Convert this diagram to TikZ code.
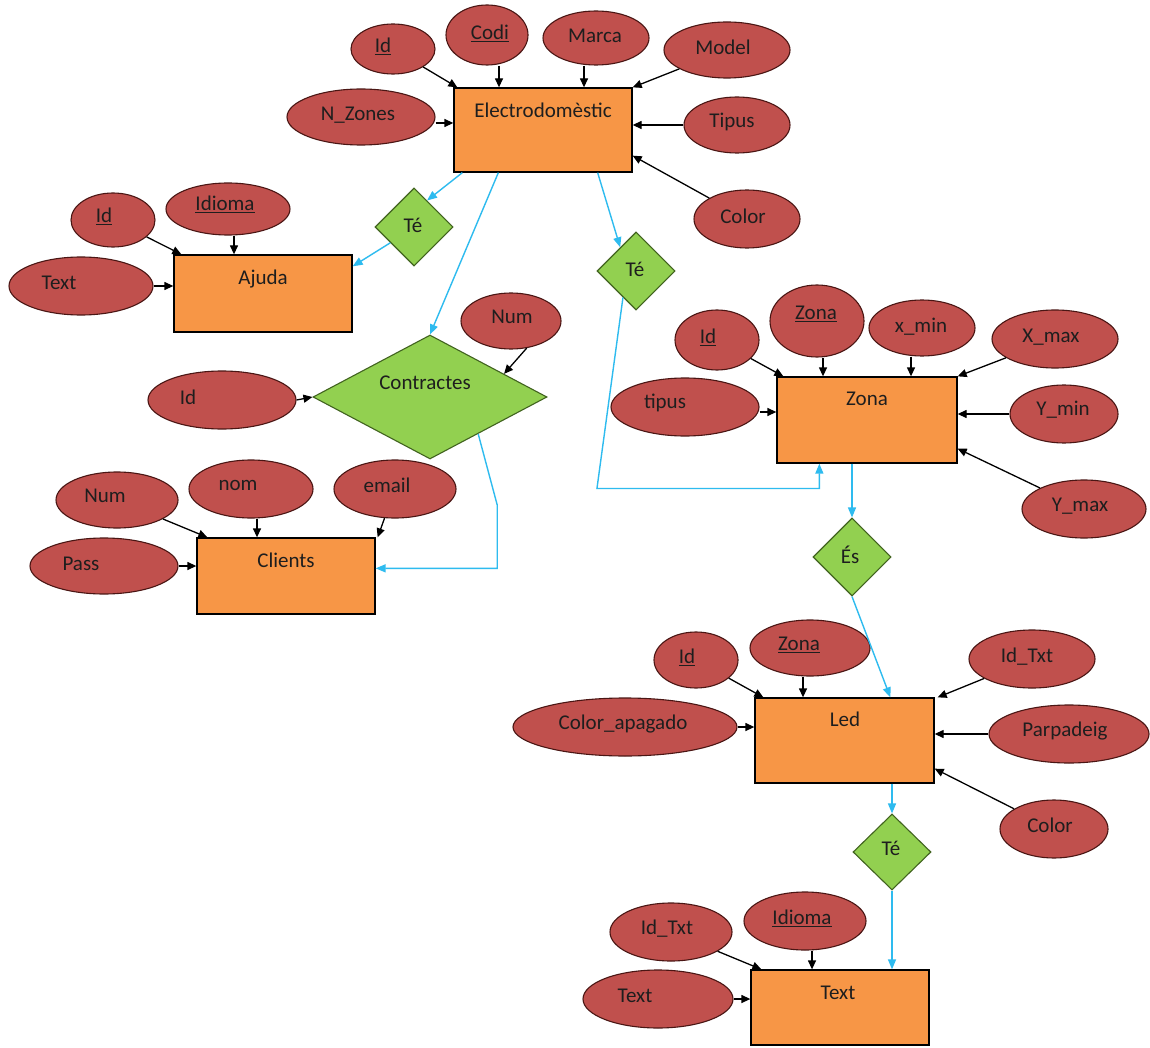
\documentclass[tikz,border=0pt]{standalone}
\usepackage{fontspec}
\setmainfont{Carlito}
\usetikzlibrary{shapes.geometric,arrows.meta,calc}
\definecolor{attrfill}{HTML}{C0504D}
\definecolor{attrdraw}{HTML}{4A1614}
\definecolor{entfill}{HTML}{F79646}
\definecolor{relfill}{HTML}{92D050}
\definecolor{reldraw}{HTML}{41631F}
\definecolor{linkblue}{HTML}{2EBBEF}
\definecolor{txt}{HTML}{1E1E1E}
\tikzset{
 attr/.style={ellipse, draw=attrdraw, fill=attrfill, line width=1.1pt, inner sep=0pt},
 entity/.style={rectangle, draw=black, fill=entfill, line width=1.3pt, inner sep=0pt},
 rel/.style={diamond, draw=reldraw, fill=relfill, line width=1.1pt, inner sep=0pt},
 lbl/.style={text=txt, font=\fontsize{21}{24}\selectfont, inner sep=0pt},
 blk/.style={draw=black, line width=1.3pt, -{Triangle[length=9pt,width=8pt]}},
 blu/.style={draw=linkblue, line width=1.4pt, -{Triangle[length=10pt,width=8pt]}},
}
\newcommand\attrnode[6]{%
 \node[attr, minimum width=#3, minimum height=#4] (#1) at (#2) {};
 \node[lbl] (#1-t) at (#5) {#6};}
\begin{document}
\begin{tikzpicture}[x=1pt,y=-1pt]
\fill[white] (0,0) rectangle (1150,1048);
\useasboundingbox (0,0) rectangle (1150,1048);

% ---------- entities ----------
\node[entity, minimum width=178, minimum height=84] (E) at (543,130) {};
\node[lbl] (E-t) at (543,110) {Electrodomèstic};
\node[entity, minimum width=178, minimum height=77] (A) at (263,293.5) {};
\node[lbl] (A-t) at (263,279) {Ajuda};
\node[entity, minimum width=178, minimum height=76] (Cl) at (286,576) {};
\node[lbl] (Cl-t) at (286,560) {Clients};
\node[entity, minimum width=180, minimum height=86] (Z) at (867,420) {};
\node[lbl] (Z-t) at (867,399) {Zona};
\node[entity, minimum width=179, minimum height=85] (Led) at (844.5,740.5) {};
\node[lbl] (Led-t) at (845,719) {Led};
\node[entity, minimum width=178, minimum height=75] (Tx) at (840,1007.5) {};
\node[lbl] (Tx-t) at (838,993) {Text};

% ---------- relationships ----------
\node[rel, minimum width=78, minimum height=78] (T1) at (414,227) {};
\node[lbl] (T1-t) at (413,225) {Té};
\node[rel, minimum width=234, minimum height=124] (C) at (430,397) {};
\node[lbl] (C-t) at (425,383) {Contractes};
\node[rel, minimum width=78, minimum height=78] (T2) at (636,271) {};
\node[lbl] (T2-t) at (635,269) {Té};
\node[rel, minimum width=78, minimum height=78] (Es) at (852,557) {};
\node[lbl] (Es-t) at (850,555) {És};
\node[rel, minimum width=78, minimum height=76] (T3) at (892,852) {};
\node[lbl] (T3-t) at (891,848) {Té};

% ---------- attributes ----------
\attrnode{eId}{393,49}{84}{50}{383,46}{\underline{Id}}
\attrnode{eCodi}{487,35}{82}{60}{490,33}{\underline{Codi}}
\attrnode{eMarca}{596,38}{106}{54}{595,36}{Marca}
\attrnode{eModel}{727,50}{126}{56}{723,47}{Model}
\attrnode{eNZ}{361,117}{148}{56}{358,115}{N\_Zones}
\attrnode{eTipus}{737,125}{106}{56}{732,122}{Tipus}
\attrnode{eColor}{747,219}{106}{58}{743,216}{Color}

\attrnode{aId}{113,220}{84}{54}{104,216}{\underline{Id}}
\attrnode{aIdioma}{228,209}{124}{52}{225,204}{\underline{Idioma}}
\attrnode{aText}{81,286}{144}{58}{59,283}{Text}

\attrnode{cNum}{511,321}{100}{56}{512,317}{Num}
\attrnode{cId}{222,400}{148}{58}{188,397}{Id}

\attrnode{clNum}{117,500}{122}{56}{105,496}{Num}
\attrnode{clNom}{251,489}{124}{58}{238,485}{nom}
\attrnode{clEmail}{395,489}{122}{58}{387,485}{email}
\attrnode{clPass}{104,566}{148}{56}{81,564}{Pass}

\attrnode{zId}{717,340}{84}{60}{708,337}{\underline{Id}}
\attrnode{zZona}{817,321}{94}{72}{816,314}{\underline{Zona}}
\attrnode{zXmin}{922,328}{106}{56}{921,327}{x\_min}
\attrnode{zXmax}{1055,339}{126}{58}{1051,337}{X\_max}
\attrnode{zTipus}{685,407}{148}{58}{665,403}{tipus}
\attrnode{zYmin}{1064,414}{108}{58}{1063,410}{Y\_min}
\attrnode{zYmax}{1084,509}{124}{58}{1080,506}{Y\_max}

\attrnode{lId}{696,660}{84}{56}{687,657}{\underline{Id}}
\attrnode{lZona}{810,648}{120}{56}{799,645}{\underline{Zona}}
\attrnode{lIdTxt}{1032,659}{126}{58}{1027,657}{Id\_Txt}
\attrnode{lColAp}{625,727}{224}{58}{623,724}{Color\_apagado}
\attrnode{lParp}{1069,734}{160}{58}{1065,731}{Parpadeig}
\attrnode{lColor}{1054,829}{108}{58}{1050,825}{Color}

\attrnode{tIdTxt}{671,932}{122}{58}{667,929}{Id\_Txt}
\attrnode{tIdioma}{805,921}{122}{58}{802,918}{\underline{Idioma}}
\attrnode{tText}{658,999}{150}{58}{635,996}{Text}

% ---------- attribute arrows ----------
\draw[blk] (eId) -- ([xshift=4pt]E.north west);
\draw[blk] ([xshift=12pt]eCodi.south) -- ([xshift=12pt]eCodi.south |- E.north);
\draw[blk] ([xshift=-12pt]eMarca.south) -- ([xshift=-12pt]eMarca.south |- E.north);
\draw[blk] (eModel) -- (E.north east);
\draw[blk] ([yshift=-6pt]eNZ.east) -- ([yshift=-6pt]eNZ.east -| E.west);
\draw[blk] (eTipus.west) -- (eTipus.west -| E.east);
\draw[blk] (eColor) -- ([yshift=17pt]E.south east);

\draw[blk] (aId) -- ([xshift=8pt]A.north west);
\draw[blk] ([xshift=6pt]aIdioma.south) -- ([xshift=6pt]aIdioma.south |- A.north);
\draw[blk] (aText.east) -- (aText.east -| A.west);

\draw[blk] (cId.east) -- (C.west);
\draw[blk] (cNum.-60) -- ($(C.north)!0.63!(C.east)$);

\draw[blk] (clNum) -- ([xshift=11pt]Cl.north west);
\draw[blk] ([xshift=6pt]clNom.south) -- ([xshift=6pt]clNom.south |- Cl.north);
\draw[blk] (clEmail) -- ([xshift=2pt]Cl.north east);
\draw[blk] (clPass.east) -- (clPass.east -| Cl.west);

\draw[blk] (zId) -- ([xshift=7pt]Z.north west);
\draw[blk] ([xshift=6pt]zZona.south) -- ([xshift=6pt]zZona.south |- Z.north);
\draw[blk] ([xshift=-11pt]zXmin.south) -- ([xshift=-11pt]zXmin.south |- Z.north);
\draw[blk] (zXmax) -- (Z.north east);
\draw[blk] ([yshift=-5pt]zTipus.east) -- ([yshift=-5pt]zTipus.east -| Z.west);
\draw[blk] (zYmin.west) -- (zYmin.west -| Z.east);
\draw[blk] (zYmax) -- ([yshift=15pt]Z.south east);

\draw[blk] (lId) -- ([xshift=9pt]Led.north west);
\draw[blk] ([xshift=-7pt]lZona.south) -- ([xshift=-7pt]lZona.south |- Led.north);
\draw[blk] (lIdTxt) -- ([xshift=3pt]Led.north east);
\draw[blk] (lColAp.east) -- (lColAp.east -| Led.west);
\draw[blk] (lParp.west) -- (lParp.west -| Led.east);
\draw[blk] (lColor) -- ([yshift=15pt]Led.south east);

\draw[blk] (tIdTxt) -- ([xshift=11pt]Tx.north west);
\draw[blk] ([xshift=7pt]tIdioma.south) -- ([xshift=7pt]tIdioma.south |- Tx.north);
\draw[blk] (tText.east) -- (tText.east -| Tx.west);

% ---------- relationship links ----------
\draw[blu] ([xshift=9pt]E.south west) -- ($(T1.north)!0.33!(T1.east)$);
\draw[blu] ($(T1.west)!0.4!(T1.south)$) -- ([yshift=-12pt]A.north east);
\draw[blu] ([xshift=45pt]E.south west) -- (C.north);
\draw[blu] ($(C.east)!0.59!(C.south)$) -- ++(19,71) |- ([yshift=-31pt]Cl.north east);
\draw[blu] ([xshift=-35pt]E.south east) -- ($(T2.north)!0.4!(T2.west)$);
\draw[blu] ($(T2.west)!0.67!(T2.south)$) -- ++(-26,191) -| ([xshift=43pt]Z.south west);
\draw[blu] (Z.south -| Es.north) -- (Es.north);
\draw[blu] (Es.south) -- ([xshift=136pt]Led.north west);
\draw[blu] (Led.south -| T3.north) -- (T3.north);
\draw[blu] (T3.south) -- (T3.south |- Tx.north);
\end{tikzpicture}
\end{document}
